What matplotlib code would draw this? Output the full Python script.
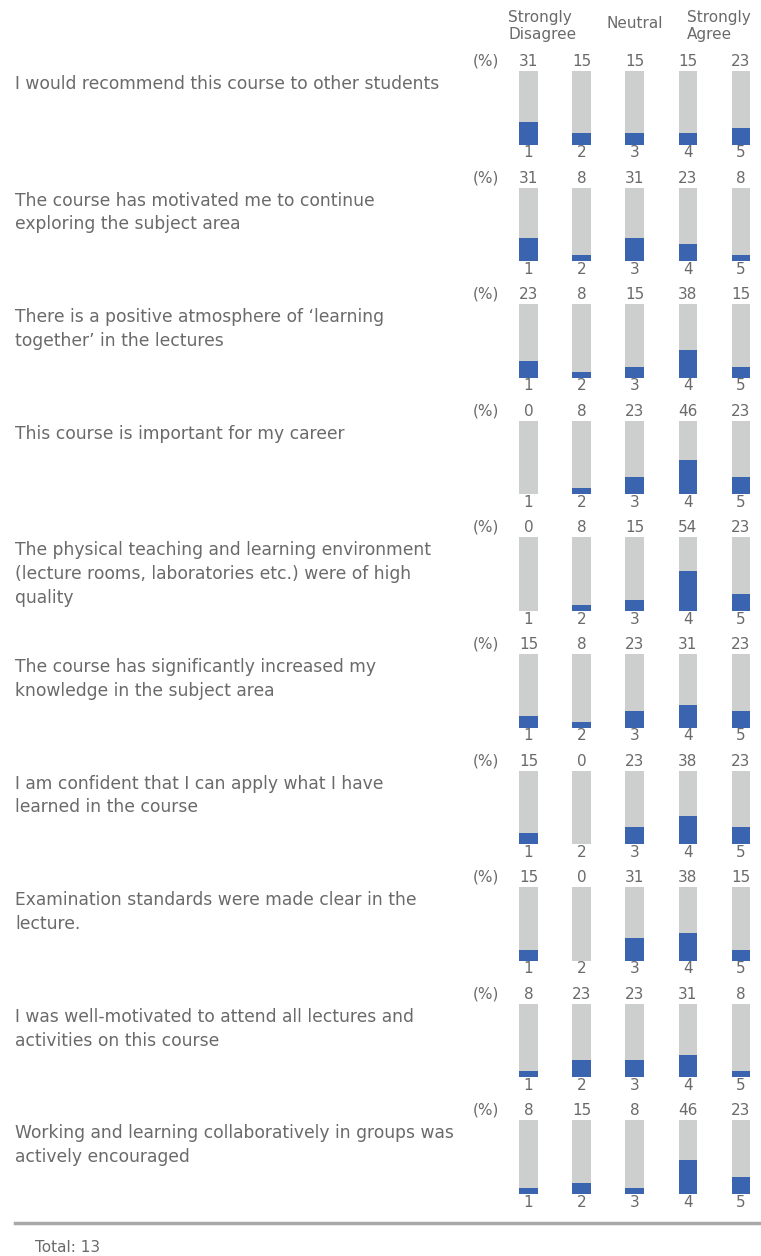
import matplotlib
matplotlib.use("Agg")
import matplotlib.pyplot as plt

questions = [
    "I would recommend this course to other students",
    "The course has motivated me to continue\nexploring the subject area",
    "There is a positive atmosphere of \u2018learning\ntogether\u2019 in the lectures",
    "This course is important for my career",
    "The physical teaching and learning environment\n(lecture rooms, laboratories etc.) were of high\nquality",
    "The course has significantly increased my\nknowledge in the subject area",
    "I am confident that I can apply what I have\nlearned in the course",
    "Examination standards were made clear in the\nlecture.",
    "I was well-motivated to attend all lectures and\nactivities on this course",
    "Working and learning collaboratively in groups was\nactively encouraged",
]
scale = [1, 2, 3, 4, 5]
percents = [
    [31, 15, 15, 15, 23],
    [31, 8, 31, 23, 8],
    [23, 8, 15, 38, 15],
    [0, 8, 23, 46, 23],
    [0, 8, 15, 54, 23],
    [15, 8, 23, 31, 23],
    [15, 0, 23, 38, 23],
    [15, 0, 31, 38, 15],
    [8, 23, 23, 31, 8],
    [8, 15, 8, 46, 23],
]
total = 13

W, H = 761, 1256
fig = plt.figure(figsize=(W / 100, H / 100), dpi=100)
GRAY = "#cdcfcf"
BLUE = "#3a64b0"
TXT = "#6a6a6a"
FONT = "DejaVu Sans"
QFS = 12.3
NFS = 11.0

bar_h = 73.5
row_step = 116.6
first_top = 71
x_spacing = 53.1
x1 = 528.5
xlo, xhi = 0.62, 5.38
ax_left = x1 - (1 - xlo) * x_spacing
ax_w = (xhi - xlo) * x_spacing

for i, (q, vals) in enumerate(zip(questions, percents)):
    top = first_top + i * row_step
    bottom = top + bar_h
    ax = fig.add_axes([ax_left / W, 1 - bottom / H, ax_w / W, bar_h / H])
    ax.bar(scale, [100] * 5, width=0.35, color=GRAY, zorder=1)
    ax.bar(scale, vals, width=0.35, color=BLUE, zorder=2)
    ax.set_xlim(xlo, xhi)
    ax.set_ylim(0, 100)
    ax.axis("off")
    for s, v in zip(scale, vals):
        ax.annotate(str(v), (s, 100), xytext=(0, 1.5), textcoords="offset points",
                    ha="center", va="bottom", fontsize=NFS, color=TXT,
                    family=FONT, annotation_clip=False)
        ax.annotate(str(s), (s, 0), xytext=(0, -0.5), textcoords="offset points",
                    ha="center", va="top", fontsize=NFS, color=TXT,
                    family=FONT, annotation_clip=False)
    fig.text(486 / W, 1 - (top - 10) / H, "(%)", ha="center", va="center",
             fontsize=NFS, color=TXT, family=FONT)
    fig.text(15 / W, 1 - (top + 4) / H, q, ha="left", va="top",
             fontsize=QFS, color=TXT, family=FONT, linespacing=1.41)

# header
fig.text(508 / W, 1 - 26 / H, "Strongly\nDisagree", ha="left", va="center",
         fontsize=NFS, color=TXT, family=FONT, linespacing=1.2)
fig.text(635 / W, 1 - 24 / H, "Neutral", ha="center", va="center",
         fontsize=NFS, color=TXT, family=FONT)
fig.text(687 / W, 1 - 26 / H, "Strongly\nAgree", ha="left", va="center",
         fontsize=NFS, color=TXT, family=FONT, linespacing=1.2)

# separator and total
fig.add_artist(plt.Line2D([15 / W, 1.0], [1 - 1223 / H, 1 - 1223 / H],
                          color="#a8a8a8", linewidth=2.5))
fig.text(35 / W, 1 - 1247 / H, f"Total: {total}", ha="left", va="center",
         fontsize=NFS, color=TXT, family=FONT)

fig.savefig("out.png", dpi=100)
